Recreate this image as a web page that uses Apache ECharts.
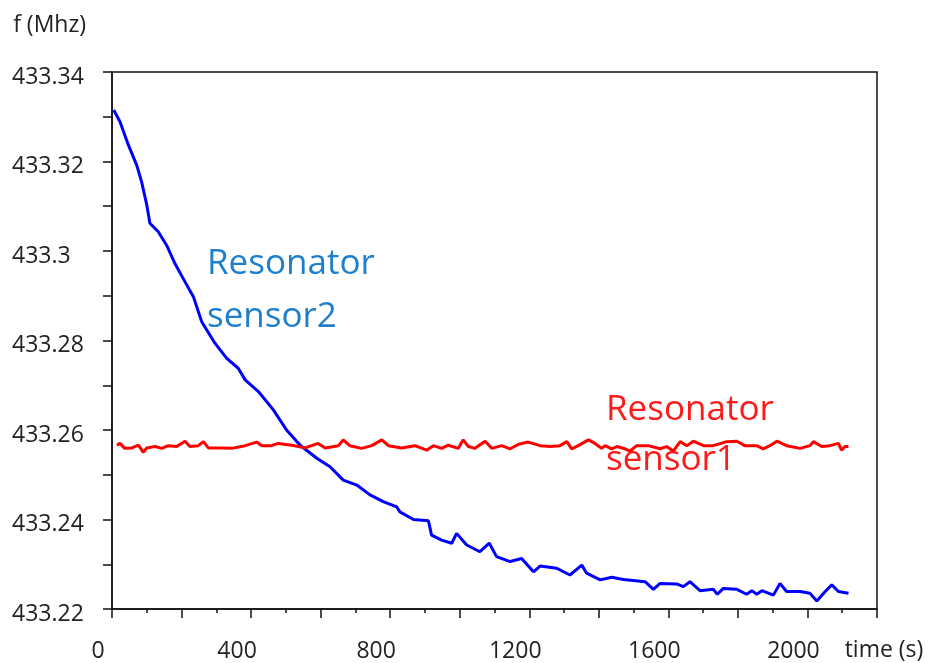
<!DOCTYPE html>
<html>
<head>
<meta charset="utf-8">
<script src="https://cdn.jsdelivr.net/npm/echarts@6/dist/echarts.min.js"></script>
<style>
html,body{margin:0;padding:0;background:#fff;}
#chart{width:928px;height:663px;}
</style>
</head>
<body>
<div id="chart"></div>
<script>
// ---- data ----
var sensor2Time = [5,23,47,71,85,100,109,133,157,181,210,234,258,296,330,363,383,421,464,502,541,589,627,665,704,742,780,819,828,867,910,919,948,977,991,1020,1058,1085,1106,1145,1178,1212,1231,1279,1317,1351,1365,1404,1437,1471,1533,1557,1576,1624,1643,1662,1691,1729,1741,1758,1797,1825,1840,1854,1869,1902,1921,1940,1979,2007,2027,2051,2070,2089,2118];
var sensor2Freq = [433.3315,433.3289,433.3237,433.3192,433.3155,433.3103,433.3062,433.3043,433.3013,433.2972,433.2931,433.2898,433.2842,433.2794,433.2760,433.2738,433.2712,433.2686,433.2645,433.2600,433.2566,433.2537,433.2518,433.2488,433.2477,433.2455,433.2440,433.2428,433.2417,433.2400,433.2397,433.2365,433.2354,433.2347,433.2369,433.2343,433.2328,433.2347,433.2317,433.2306,433.2313,433.2283,433.2296,433.2291,433.2276,433.2298,433.2280,433.2265,433.2271,433.2266,433.2261,433.2244,433.2257,433.2256,433.2250,433.2261,433.2241,433.2244,433.2233,433.2246,433.2244,433.2233,433.2241,433.2233,433.2241,433.2231,433.2257,433.2239,433.2239,433.2235,433.2218,433.2239,433.2254,433.2239,433.2235];

var sensor1Time = [14,23,37,57,76,90,100,124,143,162,186,210,224,248,263,277,315,344,383,416,431,459,478,517,555,593,613,651,665,684,718,747,776,795,833,871,905,924,948,967,996,1010,1025,1044,1073,1092,1121,1145,1169,1197,1231,1260,1288,1308,1322,1341,1370,1389,1408,1418,1437,1452,1475,1490,1509,1542,1576,1595,1614,1634,1653,1672,1701,1729,1768,1797,1820,1854,1873,1892,1912,1940,1979,2007,2017,2041,2065,2089,2098,2108,2118];
var sensor1Freq = [433.2566,433.2570,433.2559,433.2560,433.2566,433.2550,433.2560,433.2563,433.2559,433.2565,433.2563,433.2575,433.2563,433.2565,433.2574,433.2560,433.2560,433.2559,433.2565,433.2573,433.2565,433.2565,433.2570,433.2566,433.2560,433.2570,433.2560,433.2565,433.2578,433.2565,433.2559,433.2565,433.2578,433.2565,433.2560,433.2565,433.2555,433.2565,433.2559,433.2566,433.2559,433.2578,433.2563,433.2559,433.2575,433.2559,433.2565,433.2558,433.2568,433.2573,433.2565,433.2563,433.2565,433.2574,433.2558,433.2565,433.2578,433.2570,433.2559,433.2565,433.2558,433.2563,433.2558,433.2553,433.2565,433.2565,433.2558,433.2563,433.2553,433.2574,433.2565,433.2575,433.2565,433.2565,433.2574,433.2575,433.2565,433.2565,433.2558,433.2565,433.2575,433.2565,433.2559,433.2565,433.2574,433.2563,433.2565,433.2570,433.2555,433.2563,433.2563];

var xTickValues = [0,400,800,1200,1600,2000];
var xTickLabels = ['0','400','800','1200','1600','2000'];
var yTickValues = [433.22,433.24,433.26,433.28,433.30,433.32,433.34];
var yTickLabels = ['433.22','433.24','433.26','433.28','433.3','433.32','433.34'];

var seriesNames = ['Resonator\nsensor2','Resonator\nsensor1'];
var xAxisName = 'time (s)';
var yAxisName = 'f (Mhz)';

function zip(a,b){ return a.map(function(v,i){ return [v,b[i]]; }); }
function lookup(vals, labels, v){
  for (var i=0;i<vals.length;i++){ if (Math.abs(vals[i]-v) < 1e-6) return labels[i]; }
  return '';
}

var FONT = '"Open Sans", sans-serif';
var AX = '#111';
var TXT = '#222';

var chart = echarts.init(document.getElementById('chart'), null, {renderer:'canvas'});
chart.setOption({
  animation:false,
  backgroundColor:'#fff',
  grid:{left:112, right:51, top:72, bottom:54, show:true, borderColor:AX, borderWidth:1.5, backgroundColor:'transparent'},
  xAxis:{
    type:'value', min:0, max:2200, interval:200,
    name:xAxisName, nameLocation:'end', nameGap:7,
    nameTextStyle:{fontFamily:FONT, fontSize:23, color:TXT, align:'center', verticalAlign:'top', padding:[30,0,0,0]},
    axisLine:{show:true, lineStyle:{color:AX, width:1.5}},
    axisTick:{show:true, length:9, lineStyle:{color:AX, width:1.5}},
    minorTick:{show:true, splitNumber:2, length:4, lineStyle:{color:AX, width:1.5}},
    splitLine:{show:false},
    axisLabel:{
      margin:31, fontFamily:FONT, fontSize:23, color:TXT,
      padding:[0,28,0,0],
      formatter:function(v){ return lookup(xTickValues, xTickLabels, v); }
    }
  },
  yAxis:{
    type:'value', min:433.22, max:433.34, interval:0.01,
    name:yAxisName, nameLocation:'end', nameGap:47,
    nameTextStyle:{fontFamily:FONT, fontSize:23, color:TXT, align:'right', verticalAlign:'middle', padding:[0,26,0,0]},
    axisLine:{show:true, lineStyle:{color:AX, width:1.5}},
    axisTick:{show:true, length:9, lineStyle:{color:AX, width:1.5}},
    splitLine:{show:false},
    axisLabel:{
      margin:100, align:'left', color:TXT,
      formatter:function(v){ var s = lookup(yTickValues, yTickLabels, v); return s ? '{a|' + s + '}' : ''; },
      rich:{a:{fontFamily:FONT, fontSize:23, color:TXT, padding:[10,0,0,0]}}
    }
  },
  series:[
    {name:seriesNames[0], type:'line', data:zip(sensor2Time, sensor2Freq), showSymbol:false, symbol:'none',
     lineStyle:{color:'#0000ff', width:3}, z:2},
    {name:seriesNames[1], type:'line', data:zip(sensor1Time, sensor1Freq), showSymbol:false, symbol:'none',
     lineStyle:{color:'#ff0000', width:3}, z:3}
  ],
  graphic:[
    {type:'text', left:207, top:238, style:{text:seriesNames[0], fill:'#1f7fcf', font:'35px "Open Sans", sans-serif', lineHeight:53}},
    {type:'text', left:606, top:385, style:{text:seriesNames[1], fill:'#ff1a1a', font:'35px "Open Sans", sans-serif', lineHeight:50}}
  ]
});
</script>
</body>
</html>
